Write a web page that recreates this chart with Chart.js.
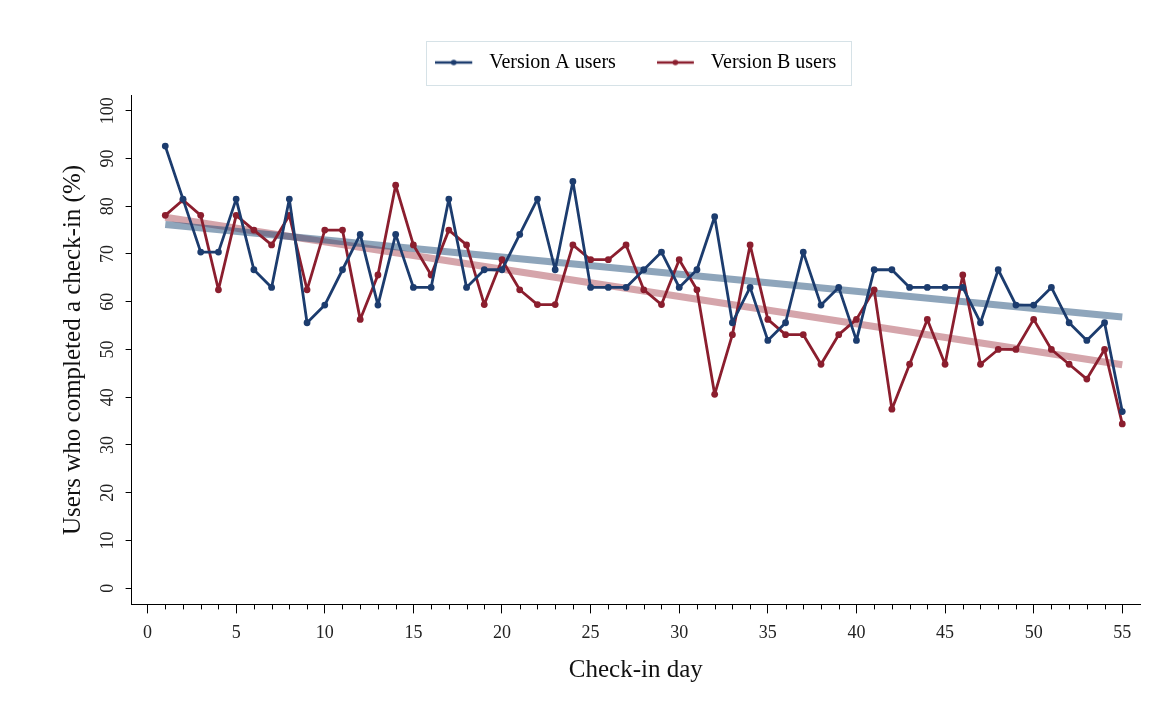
<!DOCTYPE html>
<html lang="en">
<head>
<meta charset="utf-8">
<title>Check-in completion by day</title>
<script src="https://cdn.jsdelivr.net/npm/chart.js@4.4.1/dist/chart.umd.min.js"></script>
<style>
  html, body { margin: 0; padding: 0; background: #fff; }
</style>
</head>
<body>
<canvas id="checkinChart" width="1158" height="724"></canvas>
<script>
// Check-in day
const days = [
  1, 2, 3, 4, 5, 6, 7, 8, 9, 10, 11, 12, 13, 14, 15, 16, 17, 18, 19, 20,
  21, 22, 23, 24, 25, 26, 27, 28, 29, 30, 31, 32, 33, 34, 35, 36, 37, 38, 39, 40,
  41, 42, 43, 44, 45, 46, 47, 48, 49, 50, 51, 52, 53, 54, 55
];

// % of users who completed the check-in that day
const versionA = [
  92.6, 81.5, 70.4, 70.4, 81.5, 66.7, 63.0, 81.5, 55.6, 59.3,
  66.7, 74.1, 59.3, 74.1, 63.0, 63.0, 81.5, 63.0, 66.7, 66.7,
  74.1, 81.5, 66.7, 85.2, 63.0, 63.0, 63.0, 66.7, 70.4, 63.0,
  66.7, 77.8, 55.6, 63.0, 51.9, 55.6, 70.4, 59.3, 63.0, 51.9,
  66.7, 66.7, 63.0, 63.0, 63.0, 63.0, 55.6, 66.7, 59.3, 59.3,
  63.0, 55.6, 51.9, 55.6, 37.0
];
const versionB = [
  78.1, 81.3, 78.1, 62.5, 78.1, 75.0, 71.9, 78.1, 62.5, 75.0,
  75.0, 56.3, 65.6, 84.4, 71.9, 65.6, 75.0, 71.9, 59.4, 68.8,
  62.5, 59.4, 59.4, 71.9, 68.8, 68.8, 71.9, 62.5, 59.4, 68.8,
  62.5, 40.6, 53.1, 71.9, 56.3, 53.1, 53.1, 46.9, 53.1, 56.3,
  62.5, 37.5, 46.9, 56.3, 46.9, 65.6, 46.9, 50.0, 50.0, 56.3,
  50.0, 46.9, 43.8, 50.0, 34.4
];

// Linear trend for each version, at first and last day
const fitDays = [1, 55];
const fitA = [76.2, 56.8];
const fitB = [77.7, 46.8];

const seriesLabels = ['Version A users', 'Version B users'];
const xTicks = [0, 5, 10, 15, 20, 25, 30, 35, 40, 45, 50, 55];
const yTicks = [0, 10, 20, 30, 40, 50, 60, 70, 80, 90, 100];

const SERIF = '"Liberation Serif", "Times New Roman", serif';
const NAVY = '#1c3c6e';
const MAROON = '#8b1e2e';

function toPoints(xs, ys) {
  return xs.map((d, i) => ({ x: d, y: ys[i] }));
}

// Legend sample: short line with a marker, transparent strip on the right as gap
function legendSwatch(color) {
  const c = document.createElement('canvas');
  c.width = 44;
  c.height = 8;
  const g = c.getContext('2d');
  g.strokeStyle = color;
  g.lineWidth = 2.5;
  g.beginPath();
  g.moveTo(0, 4);
  g.lineTo(37, 4);
  g.stroke();
  g.fillStyle = color;
  g.beginPath();
  g.arc(18.5, 4, 2.8, 0, Math.PI * 2);
  g.fill();
  return c;
}
const swatches = [legendSwatch(NAVY), legendSwatch(MAROON)];

// Short unlabeled ticks at every day between the labeled ones
const minorTicks = {
  id: 'minorTicks',
  afterDraw(chart) {
    const xs = chart.scales.x;
    const { ctx } = chart;
    ctx.save();
    ctx.strokeStyle = '#000';
    ctx.lineWidth = 1;
    for (let d = xTicks[0]; d <= xTicks[xTicks.length - 1]; d++) {
      if (d % 5 === 0) continue;
      const px = Math.round(xs.getPixelForValue(d)) + 0.5;
      ctx.beginPath();
      ctx.moveTo(px, xs.top);
      ctx.lineTo(px, xs.top + 5);
      ctx.stroke();
    }
    ctx.restore();
  }
};

// Thin frame around the legend entries
const legendFrame = {
  id: 'legendFrame',
  afterDraw(chart) {
    const boxes = chart.legend && chart.legend.legendHitBoxes;
    if (!boxes || !boxes.length) return;
    const first = boxes[0];
    const last = boxes[boxes.length - 1];
    const cy = first.top + first.height / 2;
    const { ctx } = chart;
    ctx.save();
    ctx.strokeStyle = '#d6e2e7';
    ctx.lineWidth = 1;
    ctx.strokeRect(Math.round(first.left - 9) + 0.5, Math.round(cy - 22) + 0.5,
      Math.round(last.left + last.width + 24 - first.left), 44);
    ctx.restore();
  }
};

const seriesStyle = color => ({
  borderColor: color,
  backgroundColor: color,
  borderWidth: 2.8,
  borderJoinStyle: 'round',
  pointRadius: 3.4,
  pointBorderWidth: 0,
  order: 1
});

const fitStyle = color => ({
  borderColor: color,
  borderWidth: 7,
  pointRadius: 0,
  order: 2
});

const ctx = document.getElementById('checkinChart').getContext('2d');
new Chart(ctx, {
  type: 'line',
  data: {
    datasets: [
      { label: seriesLabels[0], data: toPoints(days, versionA), ...seriesStyle(NAVY) },
      { label: seriesLabels[1], data: toPoints(days, versionB), ...seriesStyle(MAROON) },
      { label: 'Fit A', data: toPoints(fitDays, fitA), ...fitStyle('rgba(30, 75, 120, 0.5)') },
      { label: 'Fit B', data: toPoints(fitDays, fitB), ...fitStyle('rgba(150, 30, 45, 0.4)') }
    ]
  },
  options: {
    responsive: false,
    animation: false,
    layout: {
      padding: { top: 11.5, left: 58, right: 18, bottom: 39 }
    },
    scales: {
      x: {
        type: 'linear',
        min: -0.9,
        max: 56,
        afterBuildTicks: scale => { scale.ticks = xTicks.map(v => ({ value: v })); },
        grid: { drawOnChartArea: false, tickLength: 9, color: '#000' },
        border: { color: '#000', width: 1 },
        ticks: {
          padding: 9,
          color: '#222',
          maxRotation: 0,
          autoSkip: false,
          font: { family: SERIF, size: 18 }
        },
        title: {
          display: true,
          text: 'Check-in day',
          color: '#111',
          font: { family: SERIF, size: 25 },
          padding: { top: 2, bottom: 0 }
        }
      },
      y: {
        min: -3.4,
        max: 103.2,
        afterBuildTicks: scale => { scale.ticks = yTicks.map(v => ({ value: v })); },
        grid: { drawOnChartArea: false, tickLength: 6, color: '#000' },
        border: { color: '#000', width: 1 },
        ticks: {
          padding: 4,
          color: '#222',
          minRotation: 90,
          maxRotation: 90,
          crossAlign: 'center',
          autoSkip: false,
          font: { family: SERIF, size: 18 }
        },
        title: {
          display: true,
          text: 'Users who completed a check-in (%)',
          color: '#111',
          font: { family: SERIF, size: 25 },
          padding: { top: 0, bottom: 8 }
        }
      }
    },
    plugins: {
      legend: {
        position: 'top',
        fullSize: false,
        labels: {
          usePointStyle: true,
          pointStyleWidth: 44,
          padding: 41,
          color: '#1a1a1a',
          font: { family: SERIF, size: 20 },
          generateLabels: chart => seriesLabels.map((text, i) => ({
            text,
            datasetIndex: i,
            pointStyle: swatches[i],
            fillStyle: chart.data.datasets[i].borderColor,
            strokeStyle: chart.data.datasets[i].borderColor,
            lineWidth: 0,
            hidden: !chart.isDatasetVisible(i)
          }))
        }
      },
      // empty strip between legend and plot
      subtitle: {
        display: true,
        text: '',
        weight: 500,
        font: { size: 10, lineHeight: 1 },
        padding: { top: 0, bottom: 3 }
      },
      tooltip: { enabled: false }
    }
  },
  plugins: [minorTicks, legendFrame]
});
</script>
</body>
</html>
